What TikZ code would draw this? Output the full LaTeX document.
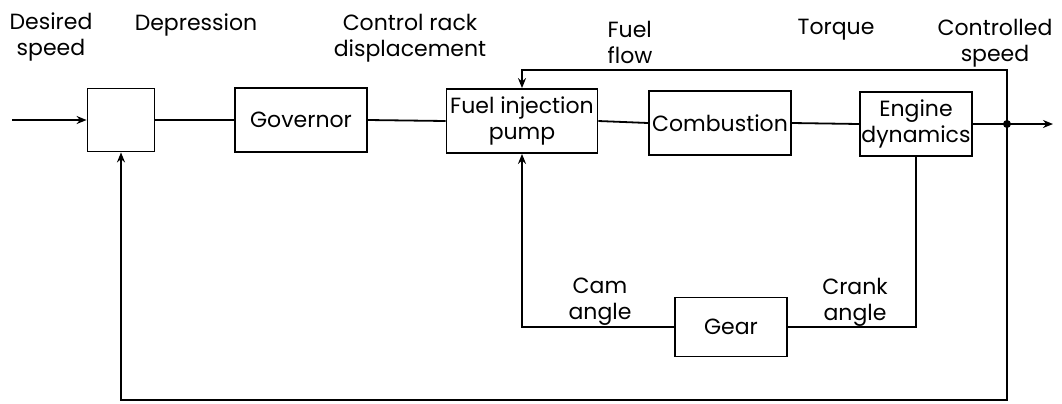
\documentclass[tikz,border=0pt]{standalone}
\usepackage{fontspec}
\setmainfont{Poppins}
\usetikzlibrary{arrows.meta}
\begin{document}
\begin{tikzpicture}[x=0.5pt,y=-0.5pt,
  blk/.style={draw, line width=0.9pt, inner sep=0pt, anchor=center, font=\fontsize{11}{13}\selectfont, align=center},
  lbl/.style={align=center, inner sep=0pt, font=\fontsize{11}{13}\selectfont},
  ln/.style={line width=0.9pt},
  arr/.style={ln, -{Stealth[length=5pt,width=4pt]}}]
\useasboundingbox (0,0) rectangle (1062,403);
% blocks
\node[blk, minimum width=33.5pt, minimum height=31.5pt] (sum) at (121,120) {};
\node[blk, minimum width=66pt, minimum height=32pt] (gov) at (301,120) {Governor};
\node[blk, minimum width=75.5pt, minimum height=32pt] (pump) at (522,121) {Fuel injection\\pump};
\node[blk, minimum width=71pt, minimum height=32pt] (comb) at (720,123) {Combustion};
\node[blk, minimum width=56pt, minimum height=32pt] (eng) at (916,124) {Engine\\dynamics};
\node[blk, minimum width=56pt, minimum height=29.5pt] (gear) at (731,327) {Gear};
% coordinates
\coordinate (in) at (12,120);
\coordinate (j) at (1007,124);
\coordinate (out) at (1053,124);
\coordinate (top) at (1007,70);
\coordinate (bot) at (1007,400);
% connectors
\draw[arr] (in) -- (sum.west);
\draw[ln] (sum.east) -- (gov.west);
\draw[ln] (gov.east) -- (pump.west);
\draw[ln] (pump.east) -- (comb.west);
\draw[ln] (comb.east) -- (eng.west);
\draw[ln] (eng.east) -- (j);
\draw[arr] (j) -- (out);
\fill (j) circle (2pt);
\draw[arr] (j) -- (top) -| (pump.north);
\draw[arr] (j) -- (bot) -| (sum.south);
\draw[ln] (eng.south) |- (gear.east);
\draw[arr] (gear.west) -| (pump.south);
% labels
\node[lbl] (l1) at (51,37) {Desired\\speed};
\node[lbl] (l2) at (196,25) {Depression};
\node[lbl] (l3) at (410,38) {Control rack\\displacement};
\node[lbl, align=left] (l4) at (630,42) {Fuel\\flow};
\node[lbl] (l5) at (836,30) {Torque};
\node[lbl] (l6) at (995,43) {Controlled\\speed};
\node[lbl] (l7) at (600,302) {Cam\\angle};
\node[lbl] (l8) at (855,302) {Crank\\angle};
\end{tikzpicture}
\end{document}
